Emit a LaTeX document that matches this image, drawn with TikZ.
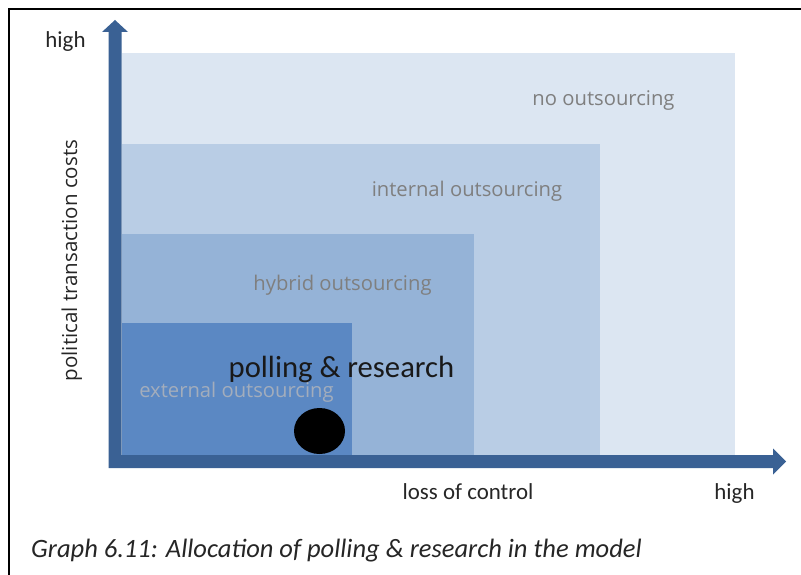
\documentclass[tikz,border=0pt]{standalone}
\usepackage{fontspec}
\usetikzlibrary{shapes.geometric}
\setmainfont{Carlito}
\newfontfamily\osans{Open Sans}
\definecolor{axisblue}{HTML}{3A6194}
\definecolor{cNo}{HTML}{DCE6F2}
\definecolor{cInt}{HTML}{B9CDE5}
\definecolor{cHyb}{HTML}{95B3D7}
\definecolor{cExt}{HTML}{5B88C3}
\definecolor{lblgrey}{HTML}{7F7F7F}
\definecolor{extgrey}{HTML}{A3ADBC}
\tikzset{
  region/.style={draw=none},
  rlabel/.style={font=\osans\fontsize{20.3}{24}\selectfont, text=lblgrey, anchor=base, inner sep=0pt},
  clabel/.style={font=\fontsize{23}{27}\selectfont, text=black!85, anchor=base, inner sep=0pt},
}
\begin{document}
\begin{tikzpicture}[x=1bp,y=-1bp]
\useasboundingbox (0,0) rectangle (801,575);
\fill[white] (0,0) rectangle (801,575);
% frame
\draw[line width=2bp,black] (9,575) -- (9,9) -- (801,9);
% regions
\fill[cNo]  (121.5,53)  rectangle (735,455);
\fill[cInt] (121.5,144) rectangle (600,455);
\fill[cHyb] (121.5,234) rectangle (474,455);
\fill[cExt] (121.5,323) rectangle (352,455);
% axes
\coordinate (O) at (115,461.5);
\coordinate (ytip) at (115,20);
\coordinate (xtip) at (786,461.5);
\fill[axisblue] (108.5,468) -- (108.5,32) -- (102,32) -- (ytip) -- (128,32) -- (121.5,32) -- (121.5,455) -- (773,455) -- (773,448.5) -- (xtip) -- (773,474.5) -- (773,468) -- cycle;
% point
\node[ellipse, fill=black, minimum width=51bp, minimum height=46bp, inner sep=0pt] (pt) at (319.5,431) {};
% labels
\node[rlabel] (no) at (603.5,106) {no outsourcing};
\node[rlabel] (int) at (467,197) {internal outsourcing};
\node[rlabel] (hyb) at (342.5,290) {hybrid outsourcing};
\node[rlabel, text=extgrey] (ext) at (236.5,397) {external outsourcing};
\node[anchor=base, inner sep=0pt, font=\fontsize{30.8}{36}\selectfont, text=black!90] (pr) at (341.5,377) {polling \& research};
\node[rlabel, text=black!85, rotate=90, font=\osans\fontsize{20.6}{24}\selectfont] (ylab) at (77,260.5) {political transaction costs};
\node[clabel] (yhigh) at (65.5,48) {high};
\node[clabel] (xlab) at (468,499) {loss of control};
\node[clabel] (xhigh) at (734.5,499) {high};
\node[anchor=base west, inner sep=0pt, font=\itshape\fontsize{26.6}{30}\selectfont, text=black!85] (cap) at (31,557) {Graph 6.11: Allocation of polling \& research in the model};
\end{tikzpicture}
\end{document}
